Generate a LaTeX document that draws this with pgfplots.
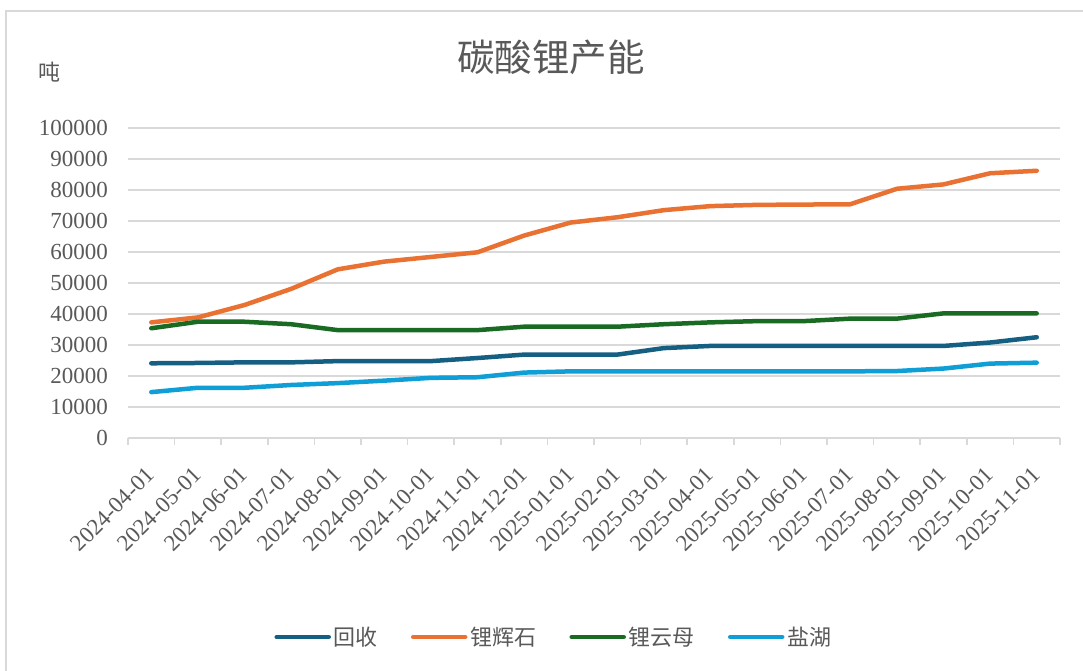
\documentclass[border=0pt]{standalone}
\usepackage{pgfplots}
\pgfplotsset{compat=1.18}
\usepackage{fontspec}
\setmainfont{Liberation Serif}
\newfontfamily\cjk{Noto Sans CJK SC}
\definecolor{txt}{HTML}{595959}
\definecolor{gridc}{HTML}{D9D9D9}
\definecolor{cA}{HTML}{156082}
\definecolor{cB}{HTML}{E97132}
\definecolor{cC}{HTML}{196B24}
\definecolor{cD}{HTML}{0F9ED5}
\begin{document}
\begin{tikzpicture}
\useasboundingbox (0pt,0pt) rectangle (1083pt,671pt);
\draw[color=gridc, line width=2pt] (6pt,0pt) -- (6pt,660pt) -- (1083pt,660pt);
\node[text=txt, font=\cjk\fontsize{37.5}{40}\selectfont] at (551pt,614pt) {碳酸锂产能};
\node[text=txt, font=\cjk\fontsize{22}{26}\selectfont] at (49pt,599pt) {吨};
\begin{axis}[
  at={(128pt,233pt)}, anchor=south west,
  scale only axis, width=932pt, height=310pt,
  xmin=-0.5, xmax=19.5, ymin=0, ymax=100000,
  xtick={0,...,19},
  xticklabels={2024-04-01,2024-05-01,2024-06-01,2024-07-01,2024-08-01,2024-09-01,2024-10-01,2024-11-01,2024-12-01,2025-01-01,2025-02-01,2025-03-01,2025-04-01,2025-05-01,2025-06-01,2025-07-01,2025-08-01,2025-09-01,2025-10-01,2025-11-01},
  minor xtick={-0.5,0.5,...,19.5},
  ytick={0,10000,...,100000},
  ymajorgrids,
  major grid style={draw=gridc, line width=1.5pt},
  axis x line*=bottom, axis y line*=left,
  x axis line style={draw=gridc, line width=1.5pt, -},
  y axis line style={draw=none},
  major tick length=0pt, minor tick length=7pt, tick align=outside,
  minor tick style={draw=gridc, line width=1.5pt},
  major tick style={draw=none},
  scaled y ticks=false,
  /pgf/number format/assume math mode=true,
  /pgf/number format/fixed,
  /pgf/number format/1000 sep={},
  tick label style={font=\fontsize{23}{26}\selectfont, text=txt},
  yticklabel style={anchor=east, inner sep=0pt, xshift=-20pt},
  xticklabel style={rotate=45, anchor=east, inner sep=0pt, xshift=-24pt, yshift=-23pt},
  legend columns=4,
  legend style={at={(0.4576,-0.642)}, anchor=center, draw=none, fill=none,
    font=\cjk\fontsize{22}{26}\selectfont, text=txt,
    nodes={inner sep=3pt},
    /tikz/every even column/.append style={column sep=30pt}},
  legend image code/.code={\draw[#1, line cap=round] (0pt,0pt) -- (52pt,0pt);},
  every axis plot/.append style={line width=4.5pt, line join=round, line cap=round, no markers},
]
\addplot[color=cA] coordinates {(0,24100)(1,24200)(2,24400)(3,24400)(4,24800)(5,24800)(6,24800)(7,25800)(8,26900)(9,26900)(10,26900)(11,29000)(12,29700)(13,29700)(14,29700)(15,29700)(16,29700)(17,29700)(18,30800)(19,32500)};
\addlegendentry{回收}
\addplot[color=cB] coordinates {(0,37300)(1,38900)(2,42900)(3,48100)(4,54400)(5,56900)(6,58400)(7,59900)(8,65300)(9,69500)(10,71200)(11,73500)(12,74800)(13,75200)(14,75300)(15,75400)(16,80400)(17,81800)(18,85400)(19,86200)};
\addlegendentry{锂辉石}
\addplot[color=cC] coordinates {(0,35400)(1,37500)(2,37500)(3,36700)(4,34800)(5,34800)(6,34800)(7,34800)(8,35900)(9,35900)(10,35900)(11,36700)(12,37300)(13,37700)(14,37700)(15,38500)(16,38500)(17,40200)(18,40200)(19,40200)};
\addlegendentry{锂云母}
\addplot[color=cD] coordinates {(0,14800)(1,16200)(2,16200)(3,17100)(4,17700)(5,18500)(6,19400)(7,19600)(8,21100)(9,21500)(10,21500)(11,21500)(12,21500)(13,21500)(14,21500)(15,21500)(16,21600)(17,22400)(18,24000)(19,24300)};
\addlegendentry{盐湖}
\end{axis}
\end{tikzpicture}
\end{document}
